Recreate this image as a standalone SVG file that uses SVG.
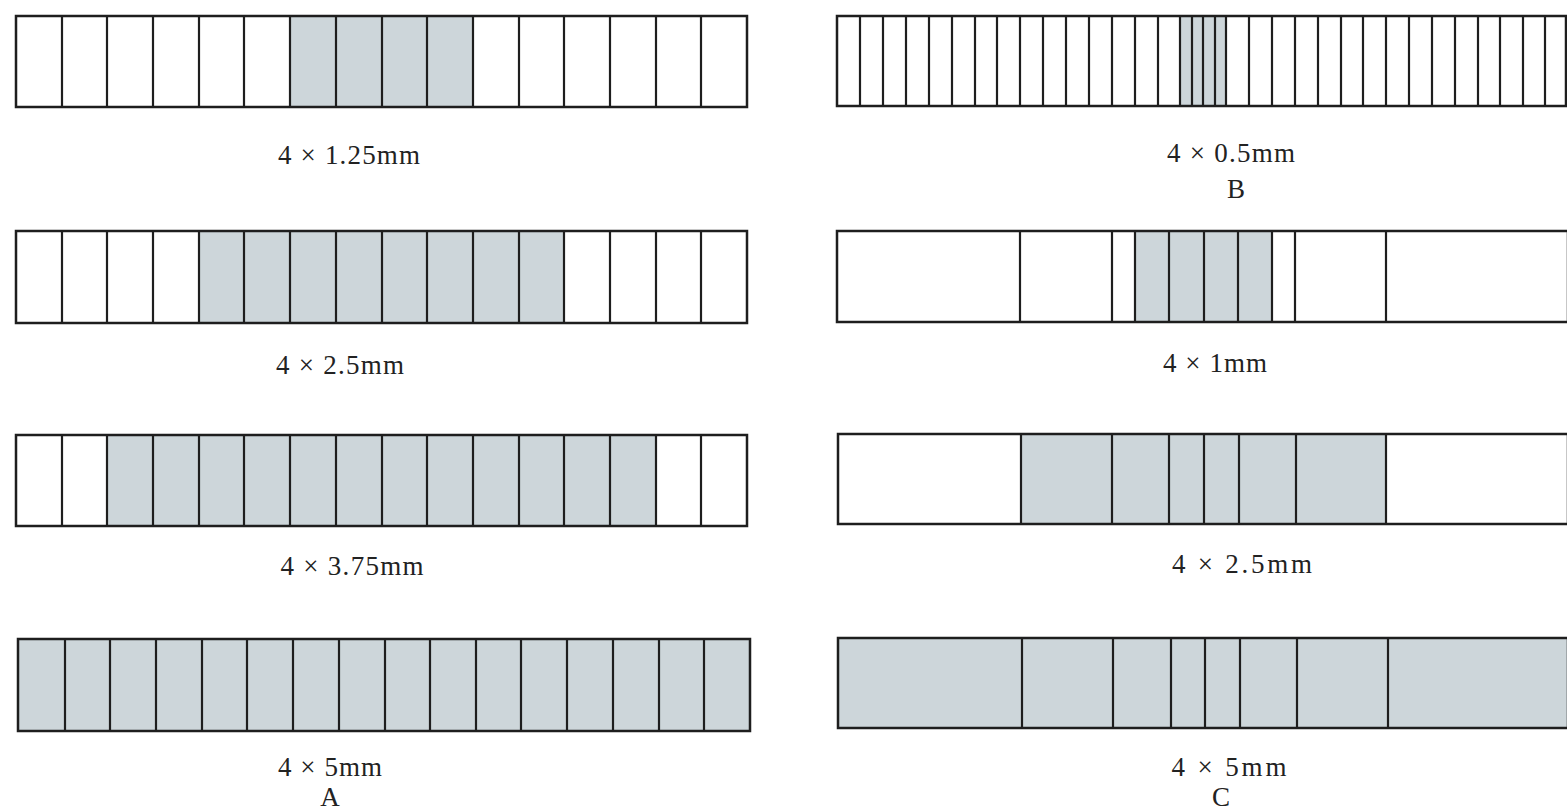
<svg xmlns="http://www.w3.org/2000/svg" width="1567" height="811" viewBox="0 0 1567 811">
<style>
.bg{fill:#ffffff}
.sh{fill:#cdd6da}
.ol{fill:none;stroke:#1e1e1e;stroke-width:2.5}
.dv{fill:none;stroke:#1e1e1e;stroke-width:2.2}
.lb{font-family:"Liberation Serif","Times New Roman",serif;font-size:27px;fill:#222222;text-anchor:middle}
</style>
<rect class="bg" x="0" y="0" width="1567" height="811"/>
<!-- Column A -->
<g id="a1">
<rect class="sh" x="290" y="16" width="183" height="91"/>
<rect class="ol" x="16" y="16" width="731" height="91"/>
<path class="dv" d="M62 16V107M107 16V107M153 16V107M199 16V107M244 16V107M290 16V107M336 16V107M382 16V107M427 16V107M473 16V107M519 16V107M564 16V107M610 16V107M656 16V107M701 16V107"/>
<text class="lb" x="349" y="164" textLength="142" lengthAdjust="spacing">4 × 1.25mm</text>
</g>
<g id="a2">
<rect class="sh" x="199" y="231" width="365" height="92"/>
<rect class="ol" x="16" y="231" width="731" height="92"/>
<path class="dv" d="M62 231V323M107 231V323M153 231V323M199 231V323M244 231V323M290 231V323M336 231V323M382 231V323M427 231V323M473 231V323M519 231V323M564 231V323M610 231V323M656 231V323M701 231V323"/>
<text class="lb" x="340" y="374" textLength="128" lengthAdjust="spacing">4 × 2.5mm</text>
</g>
<g id="a3">
<rect class="sh" x="107" y="435" width="549" height="91"/>
<rect class="ol" x="16" y="435" width="731" height="91"/>
<path class="dv" d="M62 435V526M107 435V526M153 435V526M199 435V526M244 435V526M290 435V526M336 435V526M382 435V526M427 435V526M473 435V526M519 435V526M564 435V526M610 435V526M656 435V526M701 435V526"/>
<text class="lb" x="352" y="575" textLength="143" lengthAdjust="spacing">4 × 3.75mm</text>
</g>
<g id="a4">
<rect class="sh" x="18" y="639" width="732" height="92"/>
<rect class="ol" x="18" y="639" width="732" height="92"/>
<path class="dv" d="M65 639V731M110 639V731M156 639V731M202 639V731M247 639V731M293 639V731M339 639V731M385 639V731M430 639V731M476 639V731M521 639V731M567 639V731M613 639V731M659 639V731M704 639V731"/>
<text class="lb" x="330" y="776" textLength="104" lengthAdjust="spacing">4 × 5mm</text>
<text class="lb" x="330" y="806">A</text>
</g>
<!-- Column B/C -->
<g id="b1">
<rect class="sh" x="1180" y="16" width="46" height="90"/>
<rect class="ol" x="837" y="16" width="729" height="90"/>
<path class="dv" d="M860 16V106M883 16V106M906 16V106M929 16V106M952 16V106M975 16V106M997 16V106M1020 16V106M1043 16V106M1066 16V106M1089 16V106M1112 16V106M1135 16V106M1158 16V106M1180 16V106M1192 16V106M1203 16V106M1215 16V106M1226 16V106M1249 16V106M1272 16V106M1295 16V106M1318 16V106M1341 16V106M1363 16V106M1386 16V106M1409 16V106M1432 16V106M1455 16V106M1478 16V106M1500 16V106M1523 16V106M1545 16V106"/>
<text class="lb" x="1231" y="162" textLength="128" lengthAdjust="spacing">4 × 0.5mm</text>
<text class="lb" x="1236" y="198">B</text>
</g>
<g id="b2">
<rect class="sh" x="1135" y="231" width="137" height="91"/>
<rect class="ol" x="837" y="231" width="731" height="91"/>
<path class="dv" d="M1020 231V322M1112 231V322M1135 231V322M1169 231V322M1204 231V322M1238 231V322M1272 231V322M1295 231V322M1386 231V322"/>
<text class="lb" x="1215" y="372" textLength="104" lengthAdjust="spacing">4 × 1mm</text>
</g>
<g id="c1">
<rect class="sh" x="1021" y="434" width="365" height="90"/>
<rect class="ol" x="838" y="434" width="730" height="90"/>
<path class="dv" d="M1021 434V524M1112 434V524M1169 434V524M1204 434V524M1239 434V524M1296 434V524M1386 434V524"/>
<text class="lb" x="1242" y="573" textLength="140" lengthAdjust="spacing">4 × 2.5mm</text>
</g>
<g id="c2">
<rect class="sh" x="838" y="638" width="730" height="90"/>
<rect class="ol" x="838" y="638" width="730" height="90"/>
<path class="dv" d="M1022 638V728M1113 638V728M1171 638V728M1205 638V728M1240 638V728M1297 638V728M1388 638V728"/>
<text class="lb" x="1229" y="776" textLength="115" lengthAdjust="spacing">4 × 5mm</text>
<text class="lb" x="1221" y="806">C</text>
</g>
</svg>
